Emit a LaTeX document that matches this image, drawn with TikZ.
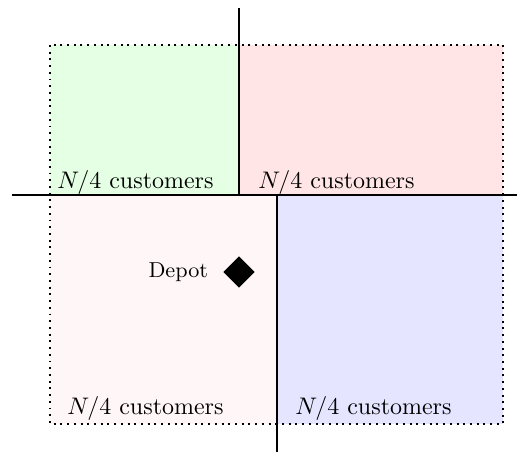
\documentclass[tikz,border=0pt]{standalone}
\usetikzlibrary{shapes.geometric, positioning}
\begin{document}
\begin{tikzpicture}[x=0.417pt, y=-0.417pt,
    divider/.style={draw, semithick},
    boundary/.style={draw, dotted, thick},
    count/.style={inner sep=0pt, anchor=base west},
    depot/.style={diamond, fill=black, inner sep=0pt, minimum size=13.2pt}]

    \useasboundingbox (0,0) rectangle (529,456);

    % quadrant fills
    \fill[green!10] (50,45) rectangle (239,195);
    \fill[red!10] (239,45) rectangle (503,195);
    \fill[red!3] (50,195) rectangle (277,424);
    \fill[blue!10] (277,195) rectangle (503,424);

    % service area
    \draw[boundary] (50,45) rectangle (503,424);

    % dividing lines
    \coordinate (top end) at (239,8);
    \coordinate (top foot) at (239,195);
    \coordinate (left end) at (12,195);
    \coordinate (right end) at (517,195);
    \coordinate (bottom head) at (277,195);
    \coordinate (bottom end) at (277,452);
    \draw[divider] (top end) -- (top foot);
    \draw[divider] (left end) -- (right end);
    \draw[divider] (bottom head) -- (bottom end);

    % customers per quadrant
    \node[count] (nw) at (57,189) {$N/4$ customers};
    \node[count] (ne) at (258,189) {$N/4$ customers};
    \node[count] (sw) at (67,415) {$N/4$ customers};
    \node[count] (se) at (295,415) {$N/4$ customers};

    % depot
    \node[depot] (dep) at (239,272) {};
    \node[font=\small, left=2.6pt of dep] (deplabel) {Depot};
\end{tikzpicture}
\end{document}
